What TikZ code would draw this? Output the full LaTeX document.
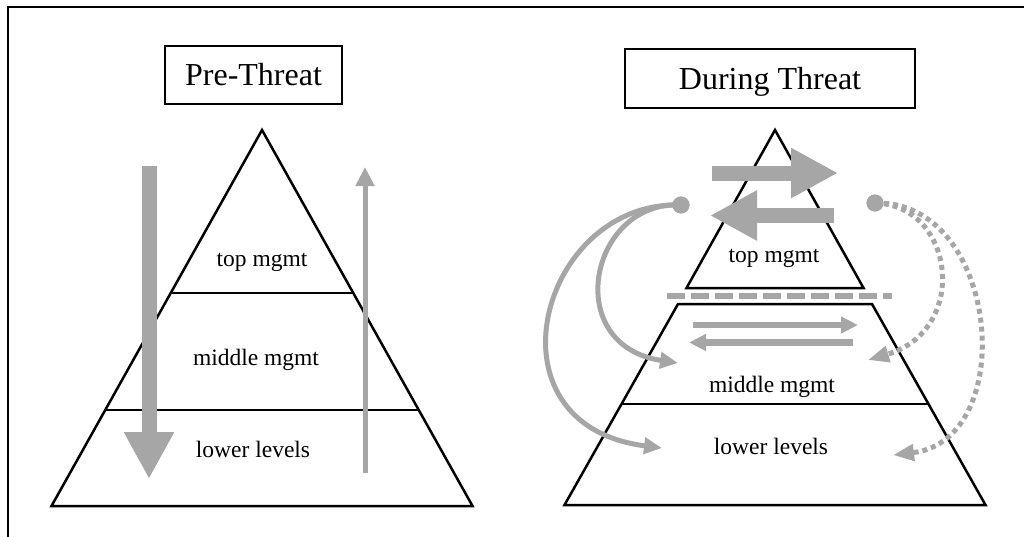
\documentclass[tikz,border=0pt]{standalone}
\usepackage{fontspec}
\setmainfont{Liberation Serif}
\usetikzlibrary{arrows.meta}
\definecolor{flow}{RGB}{166,166,166}

\tikzset{
  frameline/.style={line width=2pt},
  titlebox/.style={draw, line width=1.8pt, inner sep=0pt, text height=21pt, text depth=0pt,
    font=\fontsize{32}{38}\selectfont},
  outline/.style={line width=2.5pt, line join=miter},
  divider/.style={line width=1.5pt},
  lbl/.style={anchor=base, inner sep=0pt, font=\fontsize{23.5}{28}\selectfont},
  bigflow/.style={draw=flow, line width=15pt, -{Triangle[length=47pt,width=47pt]}},
  thinflow/.style={draw=flow, line width=5pt, -{Triangle[length=19pt,width=18pt]}},
  peerflow/.style={draw=flow, line width=6.5pt, -{Triangle[length=17pt,width=16pt]}},
  curveflow/.style={draw=flow, line width=5pt, -{Triangle[length=18pt,width=16pt]}},
  dotflow/.style={draw=flow, line width=5pt, dash pattern=on 5pt off 4pt,
    -{Triangle[length=21pt,width=16pt]}},
  sepline/.style={draw=flow, line width=6pt, dash pattern=on 18pt off 6pt},
  srcdot/.style={circle, fill=flow, inner sep=0pt, minimum size=17pt},
}

\begin{document}
\begin{tikzpicture}[x=1pt, y=-1pt]
\useasboundingbox (0,0) rectangle (1024,536);

% outer frame (top and left edges)
\draw[frameline] (7.5,540) -- (7.5,6.5) -- (1030,6.5);

% titles
\node[titlebox, minimum width=177pt, minimum height=58pt] (pre) at (253.5,75) {Pre-Threat};
\node[titlebox, minimum width=290pt, minimum height=59pt] (during) at (770,78.5) {During Threat};

% ---------- pre-threat pyramid ----------
\draw[outline] (51.5,506) -- (262,130) -- (472.5,506) -- cycle;
\draw[divider] (171,293) -- (353,293);
\draw[divider] (105,410) -- (419,410);
\node[lbl] (pre-top) at (262,266) {top mgmt};
\node[lbl] (pre-mid) at (256,365) {middle mgmt};
\node[lbl] (pre-low) at (253,457) {lower levels};

\draw[bigflow] (149,166) -- (149,479);
\draw[thinflow] (365,473) -- (365,167);

% ---------- during-threat pyramid ----------
\draw[outline] (686.5,288) -- (775,130) -- (863.5,288) -- cycle;
\draw[outline] (678,304) -- (872,304) -- (985.5,505) -- (564.5,505) -- cycle;
\draw[divider] (621,404) -- (929,404);
\node[lbl] (dur-top) at (774,262) {top mgmt};
\node[lbl] (dur-mid) at (772,392.5) {middle mgmt};
\node[lbl] (dur-low) at (771,454) {lower levels};

\draw[sepline] (667,296) -- (892,296);

\draw[bigflow] (712,173) -- (838,173);
\draw[bigflow] (834,215.5) -- (710,215.5);
\draw[peerflow] (693,325) -- (858,325);
\draw[peerflow] (853,342.5) -- (689,342.5);

\coordinate (mid-l) at (678,363);
\coordinate (low-l) at (662,448);
\coordinate (mid-r) at (868,360);
\coordinate (low-r) at (893,455);

\node[srcdot] (src-l) at (681,205) {};
\node[srcdot] (src-r) at (875,203) {};

\draw[curveflow] (src-l.center) .. controls (590,200) and (560,345) .. (mid-l);
\draw[curveflow] (src-l.center) .. controls (540,200) and (480,425) .. (low-l);
\draw[dotflow] (src-r.center) .. controls (955,205) and (970,330) .. (mid-r);
\draw[dotflow] (src-r.center) .. controls (1000,200) and (1020,440) .. (low-r);

\node[srcdot] at (src-l) {};
\node[srcdot] at (src-r) {};
\end{tikzpicture}
\end{document}
